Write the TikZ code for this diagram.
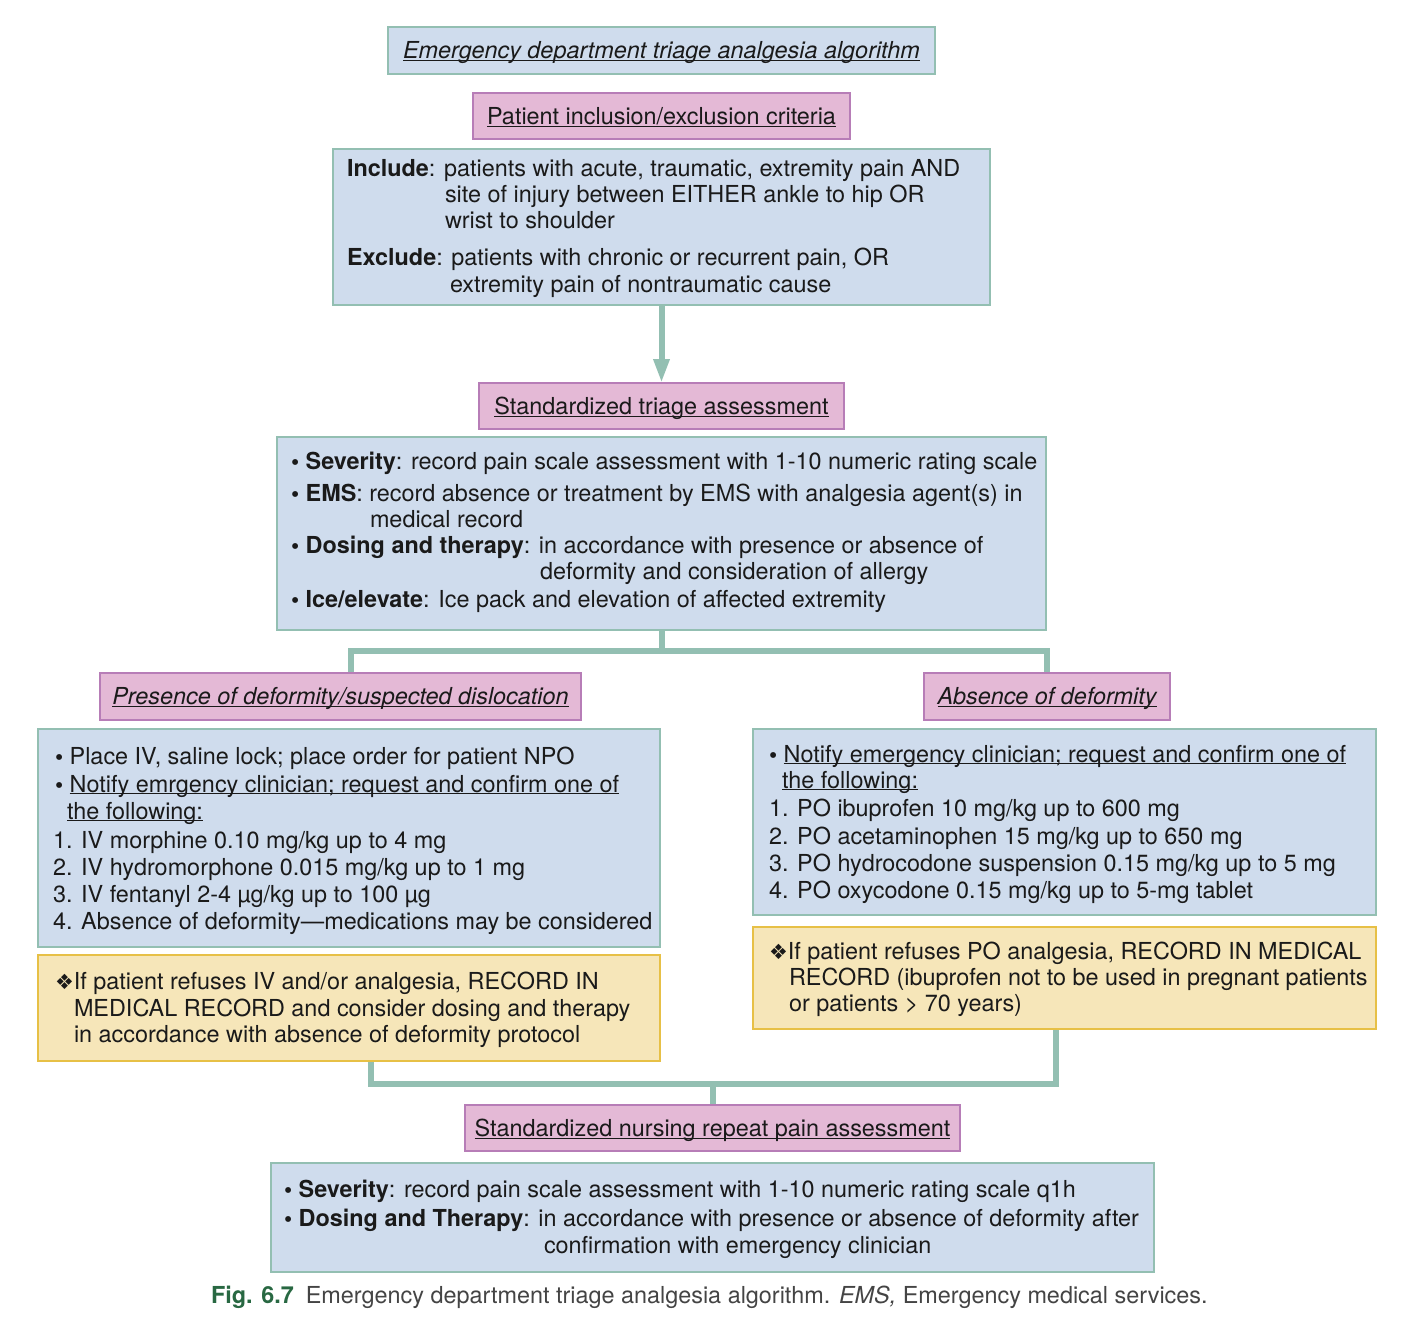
\documentclass[tikz,border=0pt]{standalone}
\usepackage{fontspec}
\setmainfont{TeX Gyre Heros}
\newfontfamily\djv{DejaVu Sans}
\usetikzlibrary{arrows.meta}
\definecolor{bluef}{RGB}{207,220,237}
\definecolor{tealc}{RGB}{147,191,178}
\definecolor{pinkf}{RGB}{228,185,214}
\definecolor{pinkc}{RGB}{183,125,183}
\definecolor{yelf}{RGB}{246,230,185}
\definecolor{yelc}{RGB}{231,192,70}
\definecolor{textc}{RGB}{26,26,26}
\definecolor{figgreen}{RGB}{40,104,66}
\definecolor{capc}{RGB}{68,68,68}
\newcommand{\ulx}[1]{\setbox0\hbox{#1}\rlap{\color{textc}\rule[-2.4pt]{\wd0}{1.2pt}}\box0}
\newcommand{\dia}{{\djv\fontsize{21}{21}\selectfont ❖}}
\newcommand{\bul}{\textbf{•}}
\pgfdeclarelayer{bg}
\pgfsetlayers{bg,main}
\tikzset{
  boxbase/.style={line width=2.8pt, inner sep=0pt, outer sep=0pt},
  bluebox/.style={boxbase, draw=tealc, fill=bluef},
  pinkbox/.style={boxbase, draw=pinkc, fill=pinkf, text=textc, text height=16.8pt, text depth=0pt, font=\fontsize{23.4}{26}\selectfont},
  titlebox/.style={bluebox, text=textc, text height=16.8pt, text depth=0pt, font=\fontsize{23.4}{26}\selectfont\itshape},
  yelbox/.style={boxbase, draw=yelc, fill=yelf},
  txt/.style={inner sep=0pt, outer sep=0pt, anchor=base west, text=textc, font=\fontsize{23.4}{26}\selectfont},
  conn/.style={draw=tealc, line width=6pt},
}
\begin{document}
\begin{tikzpicture}[x=1pt,y=-1pt]
\useasboundingbox (0,0) rectangle (1407,1330);

% boxes
\node[titlebox, minimum width=547pt, minimum height=47pt] (title) at (661.5,50.5) {\ulx{Emergency department triage analgesia algorithm}};
\node[pinkbox, minimum width=377pt, minimum height=46pt] (pink1) at (661.5,116) {\ulx{Patient inclusion/exclusion criteria}};
\node[bluebox, minimum width=657pt, minimum height=156pt] (incl) at (661.5,227) {};
\node[pinkbox, minimum width=365pt, minimum height=46pt] (pink2) at (661.5,406) {\ulx{Standardized triage assessment}};
\node[bluebox, minimum width=769pt, minimum height=193pt] (triage) at (661.5,533.5) {};
\node[pinkbox, minimum width=481pt, minimum height=47pt, font=\fontsize{23.4}{26}\selectfont\itshape] (pinkL) at (340.5,696.5) {\ulx{Presence of deformity/suspected dislocation}};
\node[pinkbox, minimum width=246pt, minimum height=47pt, font=\fontsize{23.4}{26}\selectfont\itshape] (pinkR) at (1047,696.5) {\ulx{Absence of deformity}};
\node[bluebox, minimum width=622pt, minimum height=218pt] (blueL) at (349,838) {};
\node[yelbox, minimum width=622pt, minimum height=106pt] (yelL) at (349,1008) {};
\node[bluebox, minimum width=623pt, minimum height=186pt] (blueR) at (1064.5,822) {};
\node[yelbox, minimum width=623pt, minimum height=102pt] (yelR) at (1064.5,978) {};
\node[pinkbox, minimum width=495pt, minimum height=46pt] (pinkB) at (712.5,1128) {\ulx{Standardized nursing repeat pain assessment}};
\node[bluebox, minimum width=883pt, minimum height=109pt] (bottom) at (712.5,1217.5) {};

% connectors
\begin{pgfonlayer}{bg}
\fill[white] (0,0) rectangle (1407,1330);
\draw[conn, -{Triangle[length=24pt,width=15pt]}] (incl.south) -- (pink2.north);
\coordinate (j1) at (661.5,651);
\draw[conn] (triage.south) -- (j1);
\draw[conn] (j1) -| ([xshift=10pt]pinkL.north);
\draw[conn] (j1) -| (pinkR.north);
\coordinate (j2) at (712.5,1083.5);
\draw[conn] ([xshift=21.5pt]yelL.south) |- (j2);
\draw[conn] ([xshift=-9pt]yelR.south) |- (j2);
\draw[conn] (j2) -- (pinkB.north);
\end{pgfonlayer}

% include box text
\node[txt] (i1) at (347,176) {\textbf{Include}: patients with acute, traumatic, extremity pain AND};
\node[txt] (i2) at (445,202) {site of injury between EITHER ankle to hip OR};
\node[txt] (i3) at (445,228) {wrist to shoulder};
\node[txt] (e1) at (347,265) {\textbf{Exclude}: patients with chronic or recurrent pain, OR};
\node[txt] (e2) at (450,292) {extremity pain of nontraumatic cause};

% triage text
\node[txt] (s1) at (291,469) {\bul{} \textbf{Severity}: record pain scale assessment with 1-10 numeric rating scale};
\node[txt] (s2) at (291,501) {\bul{} \textbf{EMS}: record absence or treatment by EMS with analgesia agent(s) in};
\node[txt] (s3) at (370,527) {medical record};
\node[txt] (s4) at (291,553) {\bul{} \textbf{Dosing and therapy}: in accordance with presence or absence of};
\node[txt] (s5) at (540,579) {deformity and consideration of allergy};
\node[txt] (s6) at (291,607) {\bul{} \textbf{Ice/elevate}: Ice pack and elevation of affected extremity};

% left blue text
\node[txt] (l1) at (55,764) {\bul{} Place IV, saline lock; place order for patient NPO};
\node[txt] (l2) at (55,792) {\bul{} \ulx{Notify emrgency clinician; request and confirm one of}};
\node[txt] (l3) at (67,819) {\ulx{the following:}};
\node[txt] (l4) at (53,848) {1. IV morphine 0.10 mg/kg up to 4 mg};
\node[txt] (l5) at (53,875) {2. IV hydromorphone 0.015 mg/kg up to 1 mg};
\node[txt] (l6) at (53,902) {3. IV fentanyl 2-4 µg/kg up to 100 µg};
\node[txt] (l7) at (53,929) {4. Absence of deformity—medications may be considered};

% left yellow text
\node[txt] (ly1) at (55,989) {\dia If patient refuses IV and/or analgesia, RECORD IN};
\node[txt] (ly2) at (74,1016) {MEDICAL RECORD and consider dosing and therapy};
\node[txt] (ly3) at (74,1042) {in accordance with absence of deformity protocol};

% right blue text
\node[txt] (r1) at (769,762) {\bul{} \ulx{Notify emergency clinician; request and confirm one of}};
\node[txt] (r2) at (782,788) {\ulx{the following:}};
\node[txt] (r3) at (769,816) {1. PO ibuprofen 10 mg/kg up to 600 mg};
\node[txt] (r4) at (769,844) {2. PO acetaminophen 15 mg/kg up to 650 mg};
\node[txt] (r5) at (769,871) {3. PO hydrocodone suspension 0.15 mg/kg up to 5 mg};
\node[txt] (r6) at (769,898) {4. PO oxycodone 0.15 mg/kg up to 5-mg tablet};

% right yellow text
\node[txt] (ry1) at (769,959) {\dia If patient refuses PO analgesia, RECORD IN MEDICAL};
\node[txt] (ry2) at (789,985) {RECORD (ibuprofen not to be used in pregnant patients};
\node[txt] (ry3) at (789,1011) {or patients > 70 years)};

% bottom text
\node[txt] (b1) at (284,1197) {\bul{} \textbf{Severity}: record pain scale assessment with 1-10 numeric rating scale q1h};
\node[txt] (b2) at (284,1226) {\bul{} \textbf{Dosing and Therapy}: in accordance with presence or absence of deformity after};
\node[txt] (b3) at (544,1253) {confirmation with emergency clinician};

% caption
\node[txt, text=capc] (cap) at (211,1303) {\textcolor{figgreen}{\textbf{Fig. 6.7}}\hspace{12pt}Emergency department triage analgesia algorithm. \textit{EMS,} Emergency medical services.};
\end{tikzpicture}
\end{document}
